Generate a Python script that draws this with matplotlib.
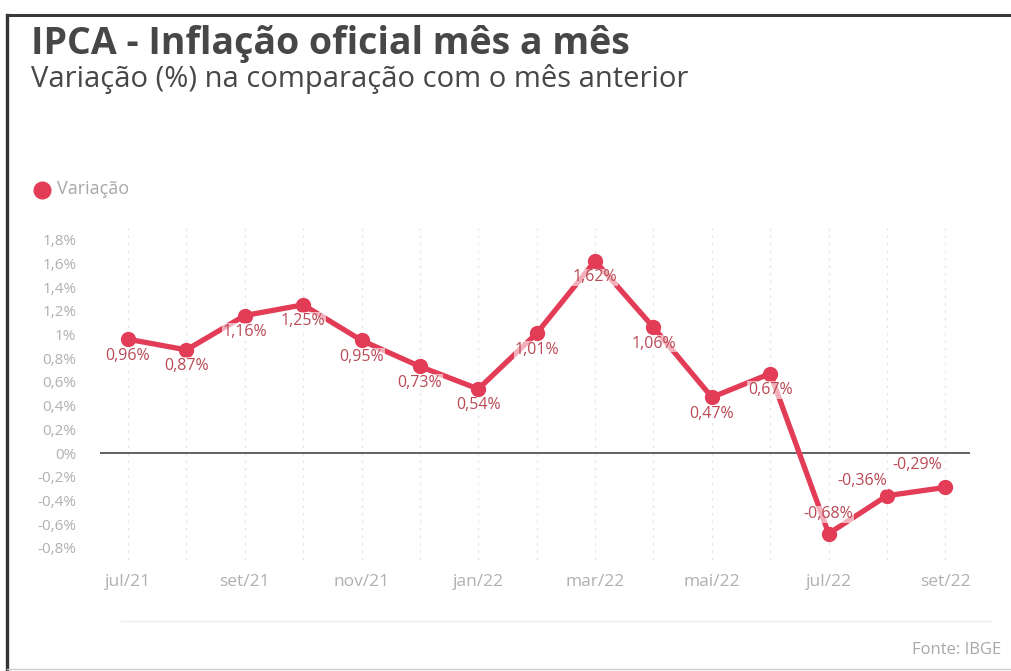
import matplotlib
matplotlib.use('Agg')
from matplotlib import pyplot as plt
from matplotlib.lines import Line2D

meses = ['jul/21', 'ago/21', 'set/21', 'out/21', 'nov/21', 'dez/21', 'jan/22',
         'fev/22', 'mar/22', 'abr/22', 'mai/22', 'jun/22', 'jul/22', 'ago/22', 'set/22']
variacao = [0.96, 0.87, 1.16, 1.25, 0.95, 0.73, 0.54,
            1.01, 1.62, 1.06, 0.47, 0.67, -0.68, -0.36, -0.29]
rotulos = ['0,96%', '0,87%', '1,16%', '1,25%', '0,95%', '0,73%', '0,54%',
           '1,01%', '1,62%', '1,06%', '0,47%', '0,67%', '-0,68%', '-0,36%', '-0,29%']
yticks = [1.8, 1.6, 1.4, 1.2, 1.0, 0.8, 0.6, 0.4, 0.2, 0.0, -0.2, -0.4, -0.6, -0.8]
ytick_labels = ['1,8%', '1,6%', '1,4%', '1,2%', '1%', '0,8%', '0,6%', '0,4%', '0,2%',
                '0%', '-0,2%', '-0,4%', '-0,6%', '-0,8%']

plt.rcParams['font.family'] = ['Open Sans', 'DejaVu Sans']

red = '#e23c57'
lbl = '#b94a55'
grey = '#b0b0b0'

fig = plt.figure(figsize=(10.11, 6.71), dpi=100)

# moldura (scan)
fig.add_artist(Line2D([0.0069, 0.0069], [0.003, 0.978], color='#333333', lw=2.4))
fig.add_artist(Line2D([0.0069, 1.0], [0.978, 0.978], color='#3a3a3a', lw=2.2))
fig.add_artist(Line2D([0.0069, 1.0], [0.003, 0.003], color='#cccccc', lw=1.0))
fig.add_artist(Line2D([0.12, 0.98], [0.075, 0.075], color='#eeeeee', lw=1.0))

fig.text(0.031, 0.919, 'IPCA - Inflação oficial mês a mês', fontsize=27,
         fontweight='bold', color='#474747', va='baseline')
fig.text(0.031, 0.871, 'Variação (%) na comparação com o mês anterior', fontsize=21,
         color='#474747', va='baseline')

# legenda
fig.add_artist(Line2D([0.0415], [0.717], marker='o', markersize=12, color=red,
                      markeredgecolor=red))
fig.text(0.056, 0.718, 'Variação', fontsize=13, color='#a8a8a8', va='center')
fig.text(0.99, 0.026, 'Fonte: IBGE', fontsize=12, color='#a8a8a8', ha='right')

ax = fig.add_axes([0.0989, 0.1659, 0.8605, 0.4946])
x = list(range(len(meses)))
ax.set_xlim(-0.48, 14.42)
ax.set_ylim(-0.9, 1.9)

for xi in x:
    ax.axvline(xi, color='#e4e4e4', lw=0.9, ls=(0, (2, 4)), zorder=0)
ax.axhline(0, color='#555555', lw=1.3, zorder=1)

ax.plot(x, variacao, color=red, lw=3.8, marker='o', markersize=10, zorder=3,
        solid_capstyle='round')

for xi, v, t in zip(x, variacao, rotulos):
    if xi == 12:
        dx, dy, va = 0, 8, 'bottom'
    elif xi == 13:
        dx, dy, va = -18, 5, 'bottom'
    elif xi == 14:
        dx, dy, va = -20, 10, 'bottom'
    else:
        dx, dy, va = 0, -6, 'top'
    ax.annotate(t, (xi, v), xytext=(dx, dy), textcoords='offset points',
                ha='center', va=va, fontsize=11.5, color=lbl, zorder=4,
                bbox=dict(boxstyle='square,pad=0.05', fc='white', ec='none', alpha=0.6))

ax.set_yticks(yticks)
ax.set_yticklabels(ytick_labels)
ax.set_xticks(x[::2])
ax.set_xticklabels(meses[::2])
ax.tick_params(axis='both', length=0, labelcolor=grey, labelsize=11)
ax.tick_params(axis='x', pad=10, labelsize=12.5)
ax.tick_params(axis='y', pad=17)
for s in ax.spines.values():
    s.set_visible(False)

fig.savefig('out.png', dpi=100)
